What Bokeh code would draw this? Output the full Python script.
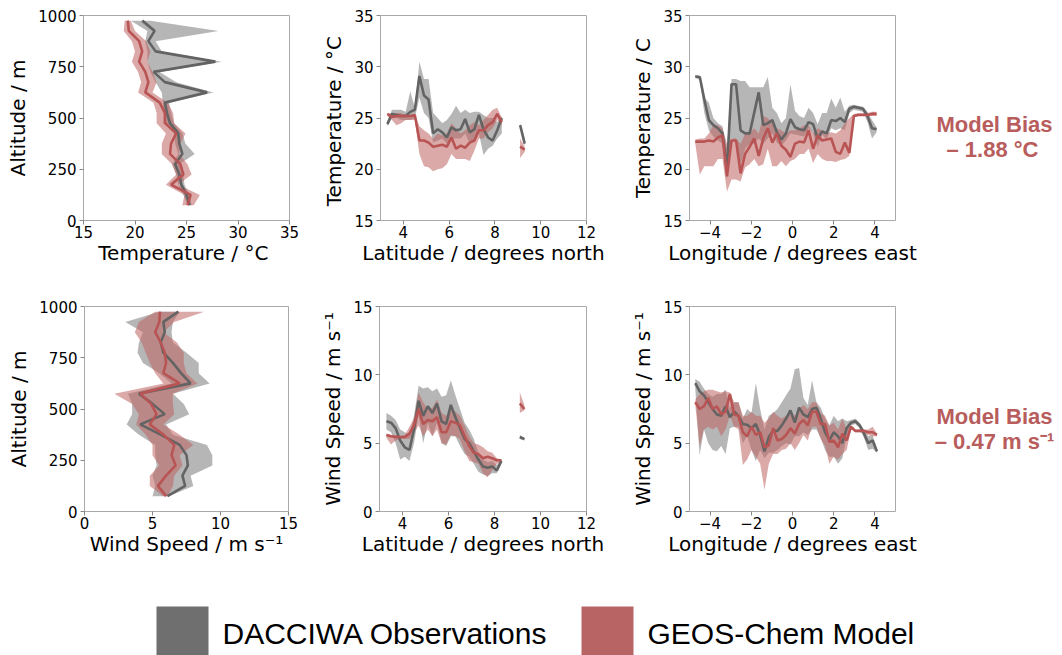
from bokeh.plotting import figure
from bokeh.layouts import row, column
from bokeh.models import Range1d, FixedTicker
from bokeh.core.properties import value
from bokeh.embed import file_html
from bokeh.resources import INLINE

# ---------------- data ----------------
alt = [75, 125, 175, 225, 275, 325, 375, 425, 475, 525, 575, 625, 675, 725, 775, 825, 875, 925, 975]

# Panel 1: temperature profile
t_alt_obs = [25.3, 25.0, 24.5, 24.3, 23.9, 24.6, 24.3, 24.2, 23.4, 23.1, 22.9, 27.0, 22.9, 21.8, 27.8, 22.0, 21.3, 21.9, 20.7]
t_alt_obs_lo = [25.1, 24.7, 24.2, 24.0, 23.6, 24.2, 23.9, 23.8, 23.0, 22.8, 22.7, 22.6, 22.0, 21.5, 21.2, 21.2, 21.0, 21.2, 19.6]
t_alt_obs_hi = [25.5, 25.3, 24.8, 24.7, 24.3, 25.8, 24.9, 24.6, 23.8, 23.5, 23.3, 27.6, 24.0, 22.4, 28.4, 22.6, 22.0, 28.1, 21.5]
t_alt_mod = [25.1, 25.4, 23.5, 24.7, 24.4, 23.4, 23.5, 24.0, 22.9, 22.9, 22.4, 21.0, 21.3, 21.0, 20.4, 20.7, 20.4, 19.4, 19.3]
t_alt_mod_lo = [24.6, 24.8, 23.0, 24.0, 23.6, 22.6, 22.6, 23.0, 22.1, 22.1, 21.8, 20.3, 20.6, 20.3, 19.7, 20.0, 19.7, 18.9, 19.0]
t_alt_mod_hi = [25.7, 26.3, 24.2, 25.5, 25.1, 24.3, 24.4, 24.9, 23.8, 23.7, 23.2, 21.7, 22.1, 21.7, 21.2, 21.5, 21.1, 20.0, 19.6]

# Panel 4: wind profile
w_alt_obs = [6.1, 7.4, 7.2, 7.6, 7.5, 7.0, 5.6, 4.1, 5.9, 5.0, 4.0, 7.8, 7.1, 6.5, 5.8, 5.6, 5.9, 5.8, 6.9]
w_alt_obs_lo = [5.0, 5.2, 5.0, 5.3, 5.2, 5.2, 4.0, 3.1, 3.5, 3.5, 3.2, 6.4, 5.5, 4.3, 3.9, 4.0, 4.3, 3.0, 5.5]
w_alt_obs_hi = [6.2, 8.0, 7.8, 9.4, 9.4, 9.0, 6.5, 6.0, 7.7, 7.3, 6.5, 9.2, 8.4, 8.4, 7.5, 6.5, 6.4, 6.5, 7.0]
w_alt_mod = [6.0, 5.4, 6.0, 6.7, 6.4, 6.6, 5.8, 4.8, 5.3, 4.9, 4.1, 7.0, 5.8, 6.0, 5.9, 5.6, 5.2, 5.5, 5.55]
w_alt_mod_lo = [5.8, 4.8, 4.8, 5.5, 5.0, 5.0, 4.5, 3.8, 4.0, 3.5, 2.2, 5.8, 5.2, 4.8, 4.5, 4.2, 3.7, 4.0, 5.2]
w_alt_mod_hi = [6.1, 6.5, 6.6, 7.2, 7.0, 8.0, 7.0, 5.8, 6.6, 6.5, 6.5, 8.3, 7.5, 7.3, 7.3, 6.8, 5.8, 6.6, 8.8]

# Latitude panels (main segment + northern segment)
lat = [3.3, 3.5, 3.7, 3.9, 4.1, 4.3, 4.5, 4.7, 4.9, 5.1, 5.3, 5.5, 5.7, 5.9, 6.1, 6.3, 6.5, 6.7, 6.9, 7.1, 7.3, 7.5, 7.7, 7.9, 8.1, 8.3]
lat_n = [9.1, 9.3]

t_lat_obs = [24.4, 25.4, 25.3, 25.2, 25.2, 25.6, 25.8, 29.1, 27.2, 26.8, 23.5, 23.9, 23.6, 23.1, 24.1, 23.8, 23.9, 24.9, 23.6, 23.9, 25.3, 23.9, 23.1, 22.8, 23.8, 25.0]
t_lat_obs_hi = [24.6, 25.8, 25.8, 25.8, 25.6, 27.6, 26.0, 30.5, 28.8, 28.8, 25.5, 25.0, 24.5, 24.8, 25.4, 26.2, 25.5, 25.8, 25.5, 25.6, 25.6, 25.3, 25.0, 25.0, 24.6, 25.2]
t_lat_obs_lo = [24.2, 25.0, 25.0, 24.8, 24.8, 24.8, 25.0, 27.0, 25.5, 25.0, 22.6, 22.8, 23.0, 22.5, 23.0, 23.0, 23.0, 23.5, 22.5, 23.0, 23.5, 21.4, 22.0, 22.3, 23.0, 23.5]
t_lat_mod = [25.4, 25.1, 25.2, 25.2, 25.2, 25.2, 25.3, 22.8, 22.8, 22.6, 22.2, 22.3, 22.4, 22.2, 23.1, 22.0, 22.3, 22.1, 22.6, 22.8, 23.8, 23.8, 24.3, 24.6, 25.4, 24.6]
t_lat_mod_hi = [25.5, 25.4, 25.5, 25.5, 25.3, 25.3, 25.4, 24.2, 23.8, 23.5, 23.0, 23.5, 23.3, 23.5, 24.5, 24.0, 23.5, 23.8, 24.3, 24.6, 24.3, 24.8, 25.3, 25.8, 26.0, 25.0]
t_lat_mod_lo = [25.2, 24.8, 24.3, 24.5, 24.8, 24.8, 24.8, 21.5, 20.3, 20.2, 19.8, 20.0, 20.1, 20.5, 21.5, 21.0, 21.0, 21.0, 20.8, 21.8, 23.0, 23.0, 23.6, 24.0, 24.8, 24.3]
t_latn_obs = [24.3, 22.5]
t_latn_obs_lo = [24.1, 22.3]
t_latn_obs_hi = [24.5, 22.7]
t_latn_mod = [22.2, 21.9]
t_latn_mod_lo = [21.1, 21.7]
t_latn_mod_hi = [23.0, 22.2]

w_lat_obs = [6.6, 6.5, 6.1, 5.2, 4.7, 4.5, 6.0, 8.1, 7.0, 7.7, 7.2, 7.9, 6.6, 6.4, 7.8, 6.9, 6.1, 5.3, 5.0, 4.4, 3.8, 3.3, 3.2, 3.3, 3.0, 3.7]
w_lat_obs_hi = [7.2, 7.0, 6.7, 6.0, 5.8, 5.6, 7.0, 9.2, 9.0, 9.1, 8.8, 9.0, 8.4, 8.5, 9.6, 8.5, 7.5, 6.5, 6.0, 5.3, 4.3, 3.8, 3.6, 3.7, 3.4, 3.8]
w_lat_obs_lo = [6.0, 5.8, 5.0, 3.8, 4.0, 3.7, 5.0, 7.0, 5.0, 6.5, 5.5, 6.5, 5.0, 4.8, 5.5, 5.5, 4.8, 4.2, 4.0, 3.5, 2.9, 2.7, 2.6, 2.8, 2.8, 3.5]
w_lat_mod = [5.6, 5.5, 5.45, 5.45, 5.45, 5.7, 6.3, 7.5, 6.4, 6.7, 6.6, 6.9, 5.8, 5.8, 6.6, 6.5, 6.3, 5.5, 4.8, 4.3, 4.2, 3.9, 4.0, 3.9, 3.75, 3.75]
w_lat_mod_hi = [5.7, 5.6, 5.6, 5.5, 5.6, 6.2, 6.8, 8.7, 8.0, 7.5, 7.6, 8.2, 7.2, 7.0, 7.5, 7.3, 7.0, 6.3, 5.5, 5.0, 4.9, 4.7, 4.4, 4.3, 3.9, 3.8]
w_lat_mod_lo = [5.4, 4.9, 5.2, 5.3, 5.3, 5.3, 5.8, 6.3, 5.5, 6.0, 5.5, 6.0, 5.0, 4.9, 5.6, 5.5, 5.3, 4.4, 3.7, 3.6, 3.5, 2.8, 2.5, 3.0, 3.5, 3.6]
w_latn_obs = [5.45, 5.3]
w_latn_obs_lo = [5.3, 5.2]
w_latn_obs_hi = [5.6, 5.4]
w_latn_mod = [7.9, 7.5]
w_latn_mod_lo = [7.2, 7.4]
w_latn_mod_hi = [8.7, 7.8]

# Panel 3: temperature vs longitude
lon_t = [-4.72, -4.50, -4.28, -4.06, -3.84, -3.62, -3.40, -3.18, -2.96, -2.74, -2.52, -2.30, -2.08, -1.86,
         -1.64, -1.42, -1.20, -0.98, -0.76, -0.54, -0.32, -0.10, 0.12, 0.34, 0.56, 0.78, 1.00, 1.22, 1.44,
         1.66, 1.88, 2.10, 2.32, 2.54, 2.76, 2.98, 3.20, 3.42, 3.64, 3.86, 4.08]
t_lon_obs = [29.05, 29.0, 26.8, 24.8, 24.3, 24.0, 23.5, 20.0, 28.3, 28.3, 23.8, 23.5, 23.5, 25.5, 27.5, 24.3,
             24.5, 24.8, 23.6, 22.9, 23.5, 24.9, 24.1, 23.9, 23.8, 24.6, 24.4, 23.0, 23.7, 23.5, 24.8, 24.7,
             25.0, 24.6, 25.9, 26.1, 26.0, 25.9, 25.2, 24.0, 23.9]
t_lon_obs_hi = [29.2, 29.1, 27.0, 26.5, 25.0, 24.5, 24.2, 22.0, 28.8, 28.8, 28.6, 28.6, 28.0, 28.0, 28.0, 28.0,
                29.0, 26.0, 25.5, 24.5, 25.0, 28.3, 25.7, 25.2, 25.0, 26.0, 25.5, 24.4, 25.5, 25.5, 26.9, 26.0,
                27.0, 25.6, 26.2, 26.3, 26.2, 26.1, 25.6, 24.8, 24.1]
t_lon_obs_lo = [28.9, 28.7, 25.5, 23.8, 23.2, 22.8, 22.5, 19.0, 23.0, 22.8, 20.5, 22.0, 22.5, 22.5, 23.0, 22.5,
                23.0, 23.5, 22.6, 22.3, 22.8, 23.5, 23.4, 23.3, 23.2, 24.0, 23.5, 22.2, 23.4, 22.9, 24.0, 23.8,
                24.0, 23.8, 25.5, 25.8, 25.7, 25.6, 24.6, 23.0, 23.6]
t_lon_mod = [22.7, 22.7, 22.7, 22.8, 22.7, 23.1, 23.3, 19.3, 22.8, 22.8, 19.6, 21.5, 22.2, 23.0, 21.3, 23.0,
             24.0, 22.6, 23.5, 22.3, 21.9, 21.2, 22.5, 22.7, 22.6, 23.8, 22.0, 23.3, 22.8, 22.9, 23.0, 21.7,
             21.5, 22.6, 21.6, 25.2, 25.3, 25.3, 25.3, 25.4, 25.4]
t_lon_mod_hi = [22.9, 23.0, 23.0, 23.5, 24.3, 24.3, 24.0, 22.5, 23.0, 23.0, 22.5, 23.5, 23.5, 24.0, 23.5, 25.2,
                25.0, 24.5, 24.0, 23.8, 23.5, 23.8, 23.8, 24.0, 24.3, 24.3, 23.5, 24.0, 23.8, 23.5, 23.6, 23.5,
                23.8, 24.5, 25.0, 25.4, 25.5, 25.5, 25.5, 25.6, 25.6]
t_lon_mod_lo = [22.5, 19.5, 20.3, 20.3, 20.3, 21.0, 21.0, 17.8, 19.0, 19.0, 18.8, 20.2, 20.5, 21.0, 20.3, 20.5,
                22.0, 20.3, 20.3, 20.8, 20.3, 20.8, 21.0, 21.5, 21.5, 22.0, 20.6, 21.5, 21.0, 20.8, 20.8, 20.7,
                20.9, 21.0, 21.3, 25.1, 25.2, 25.2, 25.2, 25.2, 25.2]

# Panel 6: wind vs longitude
lon_w = [-4.72, -4.51, -4.30, -4.09, -3.88, -3.67, -3.46, -3.25, -3.04, -2.83, -2.62, -2.41, -2.20, -1.99,
         -1.78, -1.57, -1.36, -1.15, -0.94, -0.73, -0.52, -0.31, -0.10, 0.11, 0.32, 0.53, 0.74, 0.95, 1.16,
         1.37, 1.58, 1.79, 2.00, 2.21, 2.42, 2.63, 2.84, 3.05, 3.26, 3.47, 3.68, 3.89, 4.10]
w_lon_obs = [9.4, 8.8, 8.5, 8.0, 7.5, 7.1, 7.0, 7.7, 6.9, 7.3, 7.0, 6.4, 6.35, 6.1, 6.4, 5.6, 4.4, 5.45, 5.9,
             5.9, 6.3, 6.8, 7.4, 6.5, 7.6, 7.1, 6.9, 7.5, 7.6, 6.8, 5.8, 5.2, 5.8, 5.5, 5.0, 6.1, 6.5, 6.6,
             6.3, 5.7, 5.0, 5.2, 4.4]
w_lon_obs_hi = [9.7, 9.5, 9.0, 8.6, 8.4, 8.6, 8.6, 8.9, 7.6, 8.0, 8.0, 6.8, 7.5, 7.2, 9.4, 7.5, 6.0, 7.0, 7.2,
                7.5, 8.0, 8.5, 9.0, 10.4, 10.5, 8.3, 7.8, 9.6, 8.0, 7.6, 6.8, 6.3, 7.0, 6.6, 6.8, 6.6, 6.7,
                6.8, 6.5, 6.0, 5.5, 5.6, 4.6]
w_lon_obs_lo = [9.0, 4.1, 6.0, 5.0, 4.5, 4.4, 4.8, 4.2, 6.1, 6.2, 6.2, 5.0, 5.5, 4.5, 3.7, 4.5, 3.9, 4.3, 4.3,
                4.5, 4.8, 5.0, 4.9, 5.5, 5.5, 5.8, 5.6, 6.0, 6.0, 5.4, 4.5, 4.0, 4.0, 3.5, 3.9, 5.5, 6.3, 6.4,
                6.1, 5.4, 4.5, 4.6, 4.3]
w_lon_mod = [8.0, 7.5, 7.7, 8.3, 7.5, 7.7, 7.1, 7.3, 8.6, 7.1, 7.0, 5.8, 5.5, 6.2, 5.6, 5.8, 4.7, 4.85, 6.1,
             5.2, 5.3, 5.6, 6.1, 5.7, 6.4, 6.7, 6.3, 7.3, 7.3, 6.4, 6.4, 5.1, 5.2, 4.7, 5.7, 5.2, 6.2, 5.9,
             5.9, 5.9, 5.8, 5.8, 5.6]
w_lon_mod_hi = [8.2, 8.6, 8.8, 8.9, 8.9, 8.8, 8.7, 8.8, 8.7, 8.0, 8.0, 7.0, 7.0, 7.3, 7.0, 7.0, 6.5, 6.8, 7.3,
                7.0, 6.8, 7.0, 7.2, 7.0, 7.5, 7.8, 7.5, 8.0, 8.0, 7.2, 7.0, 6.3, 6.5, 6.0, 6.8, 6.0, 6.3, 6.0,
                6.0, 6.0, 6.0, 6.2, 5.7]
w_lon_mod_lo = [7.8, 4.8, 6.0, 6.2, 6.0, 6.2, 5.5, 6.0, 7.0, 6.2, 6.0, 3.4, 3.8, 4.5, 4.0, 3.5, 1.6, 3.5, 4.2,
                4.2, 4.5, 4.6, 5.0, 4.5, 5.0, 5.6, 5.2, 6.2, 6.2, 5.3, 4.8, 3.5, 4.0, 3.8, 4.2, 4.5, 6.0, 5.8,
                5.8, 5.7, 5.6, 5.5, 5.5]

bias_temp = ["Model Bias", "\u2013 1.88 \u00b0C"]
bias_wind = ["Model Bias", "\u2013 0.47 m s\u207b\u00b9"]
legend_labels = ["DACCIWA Observations", "GEOS-Chem Model"]

# ---------------- styles ----------------
OBS_LINE = "#636363"
OBS_FILL = "#7a7a7a"
MOD_LINE = "#b85454"
MOD_FILL = "#c06262"
OBS_PATCH = "#6f6f6f"
MOD_PATCH = "#b86464"
BIAS_COLOR = "#b85c5c"
LW = 2.6


def fmt(t):
    s = str(int(t)) if float(t).is_integer() else str(t)
    return s.replace("-", "\u2212")


def panel(xr, yr, xt, yt, xlabel, ylabel, w, h, bl, br, bt, bb):
    p = figure(width=w, height=h, x_range=Range1d(*xr), y_range=Range1d(*yr),
               output_backend="svg", toolbar_location=None,
               min_border_left=bl, min_border_right=br, min_border_top=bt, min_border_bottom=bb)
    p.xgrid.visible = False
    p.ygrid.visible = False
    p.outline_line_color = "#aaaaaa"
    p.outline_line_width = 1
    p.background_fill_color = "white"
    p.border_fill_color = "white"
    for ax, ticks, lab in ((p.xaxis[0], xt, xlabel), (p.yaxis[0], yt, ylabel)):
        ax.ticker = FixedTicker(ticks=ticks)
        ax.major_label_overrides = {t: fmt(t) for t in ticks}
        ax.axis_label = lab
        ax.axis_label_text_font = "DejaVu Sans"
        ax.axis_label_text_font_size = "20px"
        ax.axis_label_text_font_style = "normal"
        ax.axis_label_text_color = "black"
        ax.major_label_text_font = "DejaVu Sans"
        ax.major_label_text_font_size = "15px"
        ax.major_label_text_color = "black"
        ax.axis_line_color = None
        ax.major_tick_line_color = "#888888"
        ax.major_tick_in = 0
        ax.major_tick_out = 4
        ax.minor_tick_line_color = None
    p.xaxis[0].major_label_standoff = 1
    p.xaxis[0].axis_label_standoff = 0
    p.yaxis[0].major_label_standoff = 3
    p.yaxis[0].axis_label_standoff = 5
    return p


def hband(p, y, lo, hi, fill):
    p.harea(y=y, x1=lo, x2=hi, fill_color=fill, fill_alpha=0.55)


# ---------------- row 1 ----------------
p1 = panel((15, 35), (0, 1000), [15, 20, 25, 30, 35], [0, 250, 500, 750, 1000],
           "Temperature /  \u00b0C", "Altitude / m", 300, 280, 83, 11, 15, 60)
hband(p1, alt, t_alt_obs_lo, t_alt_obs_hi, OBS_FILL)
hband(p1, alt, t_alt_mod_lo, t_alt_mod_hi, MOD_FILL)
p1.line(t_alt_obs, alt, line_color=OBS_LINE, line_width=LW)
p1.line(t_alt_mod, alt, line_color=MOD_LINE, line_width=LW)

p2 = panel((3, 12), (15, 35), [4, 6, 8, 10, 12], [15, 20, 25, 30, 35],
           "Latitude / degrees north", "Temperature /  \u00b0C", 306, 280, 80, 20, 15, 60)
for xs, lo, hi in ((lat, t_lat_obs_lo, t_lat_obs_hi), (lat_n, t_latn_obs_lo, t_latn_obs_hi)):
    p2.varea(x=xs, y1=lo, y2=hi, fill_color=OBS_FILL, fill_alpha=0.55)
for xs, lo, hi in ((lat, t_lat_mod_lo, t_lat_mod_hi), (lat_n, t_latn_mod_lo, t_latn_mod_hi)):
    p2.varea(x=xs, y1=lo, y2=hi, fill_color=MOD_FILL, fill_alpha=0.55)
for xs, ys in ((lat, t_lat_obs), (lat_n, t_latn_obs)):
    p2.line(xs, ys, line_color=OBS_LINE, line_width=LW)
for xs, ys in ((lat, t_lat_mod), (lat_n, t_latn_mod)):
    p2.line(xs, ys, line_color=MOD_LINE, line_width=LW)

p3 = panel((-5, 5), (15, 35), [-4, -2, 0, 2, 4], [15, 20, 25, 30, 35],
           "Longitude / degrees east", "Temperature / C", 313, 280, 83, 24, 15, 60)
p3.varea(x=lon_t, y1=t_lon_obs_lo, y2=t_lon_obs_hi, fill_color=OBS_FILL, fill_alpha=0.55)
p3.varea(x=lon_t, y1=t_lon_mod_lo, y2=t_lon_mod_hi, fill_color=MOD_FILL, fill_alpha=0.55)
p3.line(lon_t, t_lon_obs, line_color=OBS_LINE, line_width=LW)
p3.line(lon_t, t_lon_mod, line_color=MOD_LINE, line_width=LW)

# ---------------- row 2 ----------------
p4 = panel((0, 15), (0, 1000), [0, 5, 10, 15], [0, 250, 500, 750, 1000],
           "Wind Speed / m s\u207b\u00b9", "Altitude / m", 300, 292, 84, 12, 26, 61)
hband(p4, alt, w_alt_obs_lo, w_alt_obs_hi, OBS_FILL)
hband(p4, alt, w_alt_mod_lo, w_alt_mod_hi, MOD_FILL)
p4.line(w_alt_obs, alt, line_color=OBS_LINE, line_width=LW)
p4.line(w_alt_mod, alt, line_color=MOD_LINE, line_width=LW)

p5 = panel((3, 12), (0, 15), [4, 6, 8, 10, 12], [0, 5, 10, 15],
           "Latitude / degrees north", "Wind Speed / m s\u207b\u00b9", 306, 292, 79, 20, 26, 61)
for xs, lo, hi in ((lat, w_lat_obs_lo, w_lat_obs_hi), (lat_n, w_latn_obs_lo, w_latn_obs_hi)):
    p5.varea(x=xs, y1=lo, y2=hi, fill_color=OBS_FILL, fill_alpha=0.55)
for xs, lo, hi in ((lat, w_lat_mod_lo, w_lat_mod_hi), (lat_n, w_latn_mod_lo, w_latn_mod_hi)):
    p5.varea(x=xs, y1=lo, y2=hi, fill_color=MOD_FILL, fill_alpha=0.55)
for xs, ys in ((lat, w_lat_obs), (lat_n, w_latn_obs)):
    p5.line(xs, ys, line_color=OBS_LINE, line_width=LW)
for xs, ys in ((lat, w_lat_mod), (lat_n, w_latn_mod)):
    p5.line(xs, ys, line_color=MOD_LINE, line_width=LW)

p6 = panel((-5, 5), (0, 15), [-4, -2, 0, 2, 4], [0, 5, 10, 15],
           "Longitude / degrees east", "Wind Speed / m s\u207b\u00b9", 313, 292, 83, 24, 26, 61)
p6.varea(x=lon_w, y1=w_lon_obs_lo, y2=w_lon_obs_hi, fill_color=OBS_FILL, fill_alpha=0.55)
p6.varea(x=lon_w, y1=w_lon_mod_lo, y2=w_lon_mod_hi, fill_color=MOD_FILL, fill_alpha=0.55)
p6.line(lon_w, w_lon_obs, line_color=OBS_LINE, line_width=LW)
p6.line(lon_w, w_lon_mod, line_color=MOD_LINE, line_width=LW)


# ---------------- text areas ----------------
def blank(w, h, bt, bb):
    # frame spans local pixel rows bt..(h-bb); range is set in local pixels (top = bt)
    p = figure(width=w, height=h, x_range=Range1d(0, w), y_range=Range1d(h - bb, bt),
               output_backend="svg", toolbar_location=None,
               min_border_left=0, min_border_right=0, min_border_top=bt, min_border_bottom=bb)
    p.axis.visible = False
    p.xgrid.visible = False
    p.ygrid.visible = False
    p.outline_line_color = None
    return p


t1 = blank(143, 280, 15, 60)
t1.text(x=[75, 73], y=[124, 149], text=bias_temp, text_align="center", text_baseline="middle",
        text_font=value("Liberation Sans"), text_font_style="bold", text_font_size="22px",
        text_color=BIAS_COLOR)
t2 = blank(143, 292, 26, 61)
t2.text(x=[75, 75], y=[136, 161], text=bias_wind, text_align="center", text_baseline="middle",
        text_font=value("Liberation Sans"), text_font_style="bold", text_font_size="22px",
        text_color=BIAS_COLOR)

leg = figure(width=1062, height=83, x_range=Range1d(0, 1062), y_range=Range1d(83, 0),
             output_backend="svg", toolbar_location=None,
             min_border_left=0, min_border_right=0, min_border_top=0, min_border_bottom=0)
leg.axis.visible = False
leg.xgrid.visible = False
leg.ygrid.visible = False
leg.outline_line_color = None
leg.quad(left=[156], right=[208], top=[34], bottom=[83], fill_color=OBS_PATCH, line_color=None)
leg.quad(left=[581], right=[633], top=[34], bottom=[83], fill_color=MOD_PATCH, line_color=None)
leg.text(x=[222, 647], y=[61, 61], text=legend_labels, text_align="left", text_baseline="middle",
         text_font=value("Liberation Sans"), text_font_size="30px", text_color="black")

layout = column(row(p1, p2, p3, t1), row(p4, p5, p6, t2), leg)

open("out.html", "w").write(file_html(layout, INLINE))
